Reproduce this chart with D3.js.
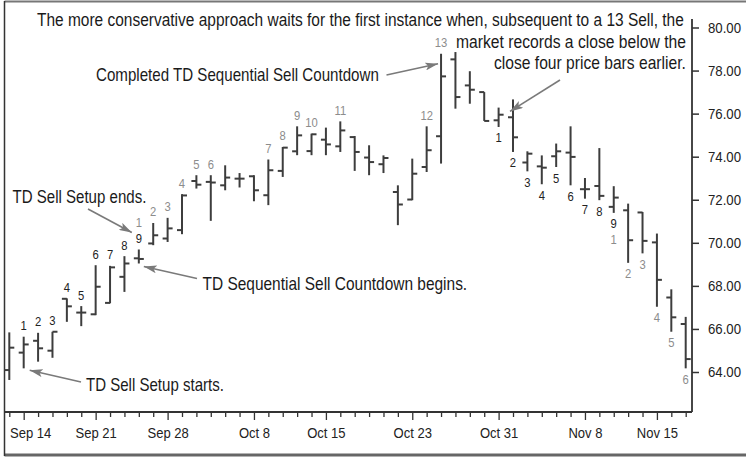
<!DOCTYPE html>
<html>
<head>
<meta charset="utf-8">
<script src="https://cdn.jsdelivr.net/npm/d3@7"></script>
<style>
  body { margin: 0; background: #fff; }
  svg { display: block; font-family: "Liberation Sans", Arial, sans-serif; }
</style>
</head>
<body>
<div id="chart"></div>
<script>
// bar data, one entry per trading day
const openP  = [64.09, 64.90, 65.45, 64.99, 67.40, 66.76, 66.68, 67.21, 68.42, 69.28, 69.97, 70.20,
                70.59, 72.87, 72.83, 72.67, 72.98, 73.09, 72.21, 73.34, 74.25, 74.26, 74.79, 74.48,
                74.91, 73.96, 73.65, 72.36, 72.01, 73.52, 74.95, 78.52, 77.31, 77.00, 75.69, 75.83,
                73.73, 73.55, 74.02, 74.19, 72.49, 72.64, 71.67, 71.51, 71.41, 70.02, 67.46, 66.23];
const highP  = [65.84, 65.64, 65.82, 65.87, 67.42, 67.06, 68.96, 68.93, 69.38, 69.69, 70.92, 71.16,
                72.26, 73.14, 73.14, 73.60, 73.24, 73.14, 73.87, 74.45, 75.41, 75.07, 75.35, 75.64,
                74.96, 74.53, 74.06, 72.67, 73.91, 75.41, 78.78, 78.86, 77.97, 77.00, 76.28, 76.66,
                74.25, 74.06, 74.61, 75.41, 73.01, 74.40, 72.63, 71.82, 71.43, 70.43, 67.84, 66.56];
const lowP   = [63.63, 64.17, 64.48, 64.66, 66.33, 66.13, 66.64, 67.19, 67.72, 69.04, 69.89, 70.04,
                70.40, 72.52, 71.02, 72.44, 72.57, 71.93, 71.75, 73.06, 74.07, 74.07, 74.07, 74.22,
                73.34, 73.14, 73.24, 70.82, 71.98, 73.29, 73.68, 76.23, 76.46, 75.66, 75.38, 74.22,
                73.32, 72.72, 73.52, 72.67, 72.05, 71.98, 71.39, 69.07, 69.51, 67.03, 65.87, 64.17];
const closeP = [65.13, 65.28, 65.10, 65.87, 67.05, 66.76, 67.96, 68.86, 69.04, 69.25, 70.35, 70.67,
                72.20, 72.70, 72.80, 73.03, 72.98, 72.44, 73.37, 74.42, 74.99, 75.04, 74.57, 75.22,
                74.22, 73.75, 73.94, 71.78, 73.21, 74.30, 77.73, 76.77, 77.11, 75.66, 75.95, 74.90,
                74.14, 73.49, 74.25, 73.99, 72.49, 72.18, 72.10, 70.12, 70.09, 68.28, 66.54, 64.60];

// x tick labels (bar index -> date)
const tickBars   = [1, 6, 11, 17, 22, 28, 34, 40, 45];
const tickLabels = ["Sep 14", "Sep 21", "Sep 28", "Oct 8", "Oct 15", "Oct 23", "Oct 31", "Nov 8", "Nov 15"];
const priceTicks = [64, 66, 68, 70, 72, 74, 76, 78, 80];

// TD count labels (bar indices, numbered 1..n)
const setupUpBars   = [1, 2, 3, 4, 5, 6, 7, 8, 9];
const countUpBars   = [9, 10, 11, 12, 13, 14, 18, 19, 20, 21, 23, 29, 30];
const setupDownBars = [34, 35, 36, 37, 38, 39, 40, 41, 42];
const countDownBars = [42, 43, 44, 45, 46, 47];

const bars = openP.map((o, i) => ({ i, o, h: highP[i], l: lowP[i], c: closeP[i] }));

const W = 746, H = 457;
const svg = d3.select("#chart").append("svg").attr("width", W).attr("height", H);

const x = d3.scaleLinear().domain([0, bars.length - 1]).range([9.3, 685.7]);
const y = d3.scaleLinear().domain([64, 80]).range([372, 27.5]);
const axisX = 692, axisBottomY = 412, axisTopY = 19, frameX = 4.5;

// squeeze a text horizontally so it reads like a condensed face
function condense(sel, sx) {
  sel.each(function () {
    const t = d3.select(this);
    const tx = +t.attr("x") || 0;
    t.attr("transform", `translate(${tx * (1 - sx)},0) scale(${sx},1)`);
  });
}

// frame
svg.append("line").attr("x1", frameX).attr("x2", W).attr("y1", 1.5).attr("y2", 1.5)
  .attr("stroke", "#777").attr("stroke-width", 2);
svg.append("line").attr("x1", frameX).attr("x2", W).attr("y1", 455).attr("y2", 455)
  .attr("stroke", "#666").attr("stroke-width", 3);
svg.append("line").attr("x1", frameX).attr("x2", frameX).attr("y1", 1).attr("y2", 456)
  .attr("stroke", "#333").attr("stroke-width", 1.5);

// y axis on the right
const yAxis = svg.append("g")
  .attr("transform", `translate(${axisX},0)`)
  .call(d3.axisRight(y).tickValues(priceTicks).tickFormat(d3.format(".2f"))
    .tickSize(7).tickPadding(9).tickSizeOuter(0));
yAxis.select(".domain").remove();
yAxis.selectAll("line").attr("stroke", "#333").attr("stroke-width", 1.5);
yAxis.selectAll("text").attr("fill", "#222").style("font-size", "15px")
  .style("font-family", "inherit").call(condense, 0.88);
svg.append("line").attr("x1", axisX).attr("x2", axisX).attr("y1", axisTopY).attr("y2", axisBottomY)
  .attr("stroke", "#333").attr("stroke-width", 1.8);

// x axis
const labelOf = new Map(tickBars.map((b, k) => [b, tickLabels[k]]));
const xAxis = svg.append("g")
  .attr("transform", `translate(0,${axisBottomY})`)
  .call(d3.axisBottom(x).tickValues(d3.range(bars.length))
    .tickFormat((d) => labelOf.get(d) || "").tickSize(5).tickPadding(10.5).tickSizeOuter(0));
xAxis.select(".domain").remove();
xAxis.selectAll(".tick line")
  .attr("stroke", "#333").attr("stroke-width", 1.3)
  .attr("y2", (d) => (labelOf.has(d) ? 8 : 5));
xAxis.selectAll("text").attr("fill", "#222").style("font-size", "15px")
  .style("font-family", "inherit");
// keep the first label clear of the frame
xAxis.selectAll("text").filter((d) => d === tickBars[0]).each(function (d) {
  const w = this.getComputedTextLength() * 0.87;
  const left = x(d) - w / 2;
  if (left < frameX + 5) d3.select(this).attr("x", frameX + 5 - left);
});
xAxis.selectAll("text").call(condense, 0.87);
svg.append("line").attr("x1", frameX).attr("x2", axisX).attr("y1", axisBottomY).attr("y2", axisBottomY)
  .attr("stroke", "#333").attr("stroke-width", 1.8);

// OHLC bars
const barColor = "#3d3d3d", tickLen = 5;
const g = svg.append("g").attr("stroke", barColor).attr("stroke-width", 2);
g.selectAll("line.hl").data(bars).join("line").attr("class", "hl")
  .attr("x1", (d) => x(d.i)).attr("x2", (d) => x(d.i))
  .attr("y1", (d) => y(d.h)).attr("y2", (d) => y(d.l));
g.selectAll("line.op").data(bars).join("line").attr("class", "op")
  .attr("x1", (d) => x(d.i) - tickLen).attr("x2", (d) => x(d.i))
  .attr("y1", (d) => y(d.o)).attr("y2", (d) => y(d.o));
g.selectAll("line.cl").data(bars).join("line").attr("class", "cl")
  .attr("x1", (d) => x(d.i)).attr("x2", (d) => x(d.i) + tickLen)
  .attr("y1", (d) => y(d.c)).attr("y2", (d) => y(d.c));

// count labels
const countGray = "#8c8c8c", setupBlack = "#222";
function countLabels(list, above, color, stackOn) {
  svg.append("g").selectAll("text").data(list).join("text")
    .attr("x", (b) => x(b))
    .attr("y", (b) => {
      const shift = stackOn && stackOn.includes(b) ? 16 : 0;
      return above ? y(highP[b]) - 6.5 - shift : y(lowP[b]) + 15.5 + shift;
    })
    .attr("text-anchor", "middle")
    .attr("fill", color)
    .style("font-size", "12.5px")
    .text((b, k) => k + 1)
    .call(condense, 0.9);
}
countLabels(setupUpBars, true, setupBlack);
countLabels(countUpBars, true, countGray, setupUpBars);
countLabels(setupDownBars, false, setupBlack);
countLabels(countDownBars, false, countGray, setupDownBars);

// annotations
svg.append("defs").append("marker")
  .attr("id", "arrow").attr("viewBox", "0 0 13 8").attr("refX", 13).attr("refY", 4)
  .attr("markerWidth", 13).attr("markerHeight", 8).attr("markerUnits", "userSpaceOnUse")
  .attr("orient", "auto")
  .append("path").attr("d", "M0,0 L13,4 L0,8 L3,4 z").attr("fill", "#7a7a7a");

const notes = [
  { t: "The more conservative approach waits for the first instance when, subsequent to a 13 Sell, the", x: 37, y: 26.5, w: 647 },
  { t: "market records a close below the", x: 456, y: 48.5, w: 230 },
  { t: "close four price bars earlier.", x: 494, y: 69, w: 192 },
  { t: "Completed TD Sequential Sell Countdown", x: 96, y: 81, w: 283 },
  { t: "TD Sell Setup ends.", x: 12.5, y: 203, w: 134 },
  { t: "TD Sequential Sell Countdown begins.", x: 202.5, y: 290, w: 265 },
  { t: "TD Sell Setup starts.", x: 86, y: 391, w: 138 }
];
svg.append("g").selectAll("text").data(notes).join("text")
  .attr("x", (d) => d.x).attr("y", (d) => d.y)
  .attr("fill", "#1a1a1a").style("font-size", "17.5px")
  .text((d) => d.t)
  .each(function (d) {
    const sx = d.w / this.getComputedTextLength();
    d3.select(this).attr("transform", `translate(${d.x * (1 - sx)},0) scale(${sx},1)`);
  });

const arrows = [
  { x1: 386.5, y1: 75, x2: x(30) - 3, y2: y(highP[30]) + 10 },
  { x1: 88, y1: 209, x2: x(9) - 7, y2: y(highP[9]) - 17 },
  { x1: 197, y1: 278.5, x2: x(9) + 5, y2: y(lowP[9]) + 3 },
  { x1: 81, y1: 382, x2: x(1) + 6, y2: y(lowP[1]) + 2 },
  { x1: 560, y1: 80, x2: x(35) - 3, y2: y(highP[35]) + 12 }
];
svg.append("g").selectAll("line").data(arrows).join("line")
  .attr("x1", (d) => d.x1).attr("y1", (d) => d.y1)
  .attr("x2", (d) => d.x2).attr("y2", (d) => d.y2)
  .attr("stroke", "#7a7a7a").attr("stroke-width", 1.6)
  .attr("marker-end", "url(#arrow)");
</script>
</body>
</html>
